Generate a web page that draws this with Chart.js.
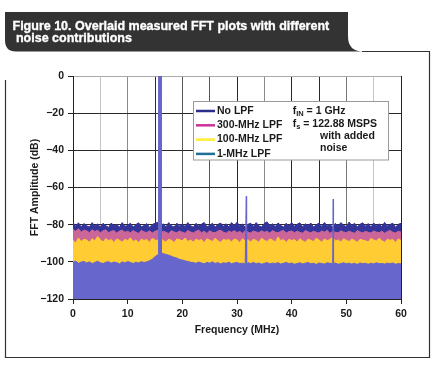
<!DOCTYPE html>
<html><head><meta charset="utf-8">
<script src="https://cdn.jsdelivr.net/npm/chart.js@4.4.1/dist/chart.umd.min.js"></script>
<style>html,body{margin:0;padding:0;background:#fff;}canvas{display:block;}</style>
</head><body>
<canvas id="c" width="435" height="365"></canvas>
<script>
// ---------------- data ----------------
const freqsMHz = [0,0.5,1,1.5,2,2.5,3,3.5,4,4.5,5,5.5,6,6.5,7,7.5,8,8.5,9,9.5,10,10.5,11,11.5,12,12.5,13,13.5,14,14.5,15,15.5,16,16.5,17,17.5,18,18.5,19,19.5,20,20.5,21,21.5,22,22.5,23,23.5,24,24.5,25,25.5,26,26.5,27,27.5,28,28.5,29,29.5,30,30.5,31,31.5,32,32.5,33,33.5,34,34.5,35,35.5,36,36.5,37,37.5,38,38.5,39,39.5,40,40.5,41,41.5,42,42.5,43,43.5,44,44.5,45,45.5,46,46.5,47,47.5,48,48.5,49,49.5,50,50.5,51,51.5,52,52.5,53,53.5,54,54.5,55,55.5,56,56.5,57,57.5,58,58.5,59,59.5,60];

const seriesNames = ['No LPF','300-MHz LPF','100-MHz LPF','1-MHz LPF'];

const noLpfDb = [
-78.8,-80.9,-79.0,-81.2,-79.4,-80.6,-81.3,-78.9,-80.8,-79.6,
-81.2,-79.3,-80.5,-81.5,-79.1,-80.7,-79.8,-81.4,-78.9,-80.9,
-80.4,-79.2,-81.3,-80.0,-79.0,-81.1,-80.5,-79.4,-81.5,-79.9,
-79.3,-78.7,-80.9,-79.5,-81.2,-78.9,-80.6,-81.3,-79.2,-80.8,
-79.6,-81.0,-78.9,-80.5,-81.4,-79.3,-80.7,-79.8,-78.8,-81.1,
-80.5,-79.2,-81.3,-79.9,-79.1,-80.9,-79.5,-81.2,-78.9,-80.4,
-78.7,-80.8,-79.6,-81.5,-79.8,-79.2,-81.0,-78.9,-80.6,-81.3,
-79.3,-78.5,-80.6,-79.5,-81.1,-79.1,-80.3,-81.4,-79.2,-80.7,
-78.9,-80.9,-79.8,-79.0,-81.2,-79.5,-80.6,-79.1,-81.3,-80.0,
-79.2,-81.0,-78.8,-80.7,-79.7,-81.5,-79.3,-80.8,-78.9,-80.3,
-81.1,-78.6,-80.5,-79.2,-81.2,-79.8,-79.0,-80.9,-79.4,-81.3,
-79.1,-80.6,-79.6,-81.0,-78.8,-80.7,-79.9,-79.2,-81.4,-79.8,
-79.3];

const lpf300Db = [
-82.6,-83.6,-82.2,-84.0,-82.9,-83.3,-84.3,-82.7,-83.7,-83.0,
-84.4,-83.3,-82.8,-84.3,-83.6,-83.1,-84.6,-83.4,-82.9,-84.1,
-83.5,-84.4,-83.2,-84.0,-84.7,-83.0,-83.9,-84.2,-83.3,-84.5,
-83.6,-83.0,-84.4,-83.5,-84.1,-84.8,-83.2,-84.0,-84.3,-83.4,
-84.1,-84.6,-83.1,-83.9,-84.5,-83.5,-83.0,-84.3,-83.6,-84.7,
-83.3,-84.1,-84.4,-83.4,-83.0,-84.0,-84.6,-83.5,-84.1,-83.2,
-84.3,-83.6,-84.7,-83.1,-84.0,-84.5,-83.4,-83.9,-84.3,-83.3,
-84.1,-83.5,-84.6,-83.2,-84.0,-84.4,-83.6,-83.0,-84.5,-83.7,
-83.4,-84.3,-83.5,-84.1,-84.6,-83.1,-83.9,-84.4,-83.5,-84.1,
-84.5,-83.4,-84.0,-83.0,-84.7,-83.6,-84.1,-84.4,-83.3,-84.0,
-84.3,-83.5,-84.1,-84.6,-83.2,-83.9,-84.4,-83.6,-84.1,-84.5,
-83.4,-84.0,-84.3,-83.5,-84.6,-83.7,-83.1,-84.1,-84.5,-83.6,
-84.0];

const lpf100Db = [
-88.5,-89.8,-87.2,-89.1,-87.8,-88.3,-89.5,-87.6,-88.7,-86.4,
-88.1,-89.3,-87.5,-88.6,-88.0,-89.6,-87.7,-88.4,-89.4,-87.9,
-88.6,-87.1,-89.1,-88.2,-89.7,-87.8,-88.5,-88.0,-89.5,-87.4,
-88.3,-88.8,-87.5,-88.6,-89.3,-87.9,-88.4,-89.6,-87.7,-88.1,
-88.7,-87.2,-89.1,-88.2,-89.4,-87.8,-88.5,-88.0,-89.7,-87.6,
-88.3,-89.1,-87.3,-88.6,-89.5,-87.9,-88.4,-88.0,-89.3,-87.7,
-88.2,-89.6,-87.6,-88.8,-88.1,-89.3,-87.8,-88.5,-89.5,-87.3,
-88.4,-89.1,-87.7,-88.3,-89.4,-86.6,-88.6,-88.0,-89.6,-87.9,
-88.5,-88.1,-89.3,-87.6,-88.7,-89.5,-87.8,-88.4,-89.1,-87.3,
-88.3,-89.4,-87.7,-88.6,-88.0,-86.8,-88.8,-88.2,-89.3,-87.6,
-88.4,-89.1,-87.8,-88.5,-89.5,-87.9,-88.3,-88.7,-89.3,-87.4,
-88.2,-88.8,-87.3,-88.6,-89.4,-87.9,-88.4,-88.0,-89.6,-87.7,
-88.5];

const lpf1Db = [
-100.2,-99.6,-100.8,-100.1,-99.8,-100.6,-100.0,-101.0,-100.3,-99.7,
-100.5,-100.9,-100.2,-99.9,-100.7,-100.1,-100.4,-101.1,-100.0,-100.6,
-99.8,-100.3,-100.9,-100.2,-100.6,-99.9,-100.4,-100.0,
-99.4,-98.6,-97.2,-96.3,-95.7,-95.5,-96.1,-96.4,-97.0,-97.6,-98.0,-98.7,-99.0,-99.5,-99.8,-100.2,
-100.4,-100.8,-100.1,-100.6,-101.0,-100.3,-100.7,-100.0,-100.9,-100.4,
-101.1,-100.5,-100.8,-100.2,-101.0,-100.6,-100.3,-100.9,-100.7,-101.2,
-100.5,-100.9,-100.3,-101.0,-100.6,-101.3,-100.8,-100.4,-101.1,-100.7,
-100.9,-100.5,-101.2,-100.8,-100.3,-101.0,-100.6,-101.3,-100.9,-100.5,
-101.1,-100.7,-100.4,-101.0,-100.8,-101.4,-100.6,-100.9,-101.2,-100.5,
-100.8,-101.1,-100.6,-101.3,-100.9,-100.5,-101.0,-100.7,-101.2,-100.8,
-101.4,-100.6,-101.0,-100.8,-101.3,-100.7,-101.1,-100.5,-101.0,-100.9,
-101.2,-100.7,-101.0,-100.6,-101.3,-100.9,-101.1];

// fundamental tone (all series) and spurs (1-MHz LPF trace)
const fundamentalMHz = 15.9;
const fundamentalDb = 0;
const spurFreqsMHz = [31.7, 47.6];
const spurDb = [-64.7, -66.3];

const xTickLabels = ['0','10','20','30','40','50','60'];
const yTickLabels = ['0','\u221220','\u221240','\u221260','\u221280','\u2212100','\u2212120'];

// ---------------- styles ----------------
const fillColors = ['#333399','#cc6699','#ffcc33','#6666cc'];
const legendColors = ['#2b2e8c','#cc3399','#ffee33','#1f6f96'];
const FONT = '"Liberation Sans", Arial, Helvetica, sans-serif';
const TXT = '#1a1a1a';

function buildPoints(values, spikes) {
  let pts = freqsMHz.map((f, i) => ({x: f, y: values[i]}));
  spikes.forEach(s => {
    let ni = 0, best = 1e9;
    freqsMHz.forEach((f, i) => { const d = Math.abs(f - s.f); if (d < best) { best = d; ni = i; } });
    const base = values[ni];
    pts = pts.filter(p => p.x < s.f - s.hw || p.x > s.f + s.hw);
    if (s.wide) {
      pts.push({x: s.f - s.hw, y: base}, {x: s.f - s.hw + 0.005, y: s.db},
               {x: s.f + s.hw - 0.005, y: s.db}, {x: s.f + s.hw, y: base});
    } else {
      pts.push({x: s.f - s.hw, y: base}, {x: s.f, y: s.db}, {x: s.f + s.hw, y: base});
    }
  });
  pts.sort((a, b) => a.x - b.x);
  return pts;
}

const fund = {f: fundamentalMHz, db: fundamentalDb, hw: 0.25, wide: true};
const spurs = spurFreqsMHz.map((f, i) => ({f: f, db: spurDb[i], hw: 0.06, wide: false}));
const seriesValues = [noLpfDb, lpf300Db, lpf100Db, lpf1Db];
const datasets = seriesValues.map((vals, i) => ({
  label: seriesNames[i],
  data: buildPoints(vals, i === 3 ? [fund].concat(spurs) : [fund]),
  borderColor: fillColors[i],
  backgroundColor: fillColors[i],
  borderWidth: 1,
  fill: 'start',
  pointRadius: 0,
  tension: 0,
  order: 4 - i
}));

const xGridColors = ['#222','#c4c4c4','#8a8a8a','#2a2a2a','#555','#555','#2a2a2a','#8a8a8a','#2a2a2a','#2a2a2a','#777','#c4c4c4','#222'];

// ---------------- decoration plugins ----------------
const framePlugin = {
  id: 'frame',
  beforeDraw(chart) {
    const c = chart.ctx;
    c.save();
    c.fillStyle = '#fff';
    c.fillRect(0, 0, chart.width, chart.height);
    c.fillStyle = '#333333';
    c.beginPath();
    c.moveTo(5, 12);
    c.lineTo(348, 12);
    c.lineTo(348, 36);
    c.quadraticCurveTo(348, 51.5, 363, 51.5);
    c.lineTo(16, 51.5);
    c.quadraticCurveTo(5, 51.5, 5, 40);
    c.closePath();
    c.fill();
    c.fillStyle = '#fff';
    c.strokeStyle = '#fff';
    c.lineWidth = 0.35;
    c.font = 'bold 12.5px ' + FONT;
    c.textBaseline = 'alphabetic';
    c.fillText('Figure 10. Overlaid measured FFT plots with different', 12.5, 29.5);
    c.strokeText('Figure 10. Overlaid measured FFT plots with different', 12.5, 29.5);
    c.fillText(' noise contributions', 12.5, 41.5);
    c.strokeText(' noise contributions', 12.5, 41.5);
    c.strokeStyle = '#333';
    c.lineWidth = 1.2;
    c.beginPath();
    c.moveTo(5.5, 80);
    c.lineTo(5.5, 357.5);
    c.lineTo(429.5, 357.5);
    c.lineTo(429.5, 51.5);
    c.lineTo(362, 51.5);
    c.stroke();
    c.restore();
  }
};

const legendPlugin = {
  id: 'boxLegend',
  afterDraw(chart) {
    const c = chart.ctx;
    c.save();
    c.fillStyle = '#fff';
    c.fillRect(193.5, 101.5, 195, 58.5);
    c.strokeStyle = '#9a9a9a';
    c.lineWidth = 1;
    c.strokeRect(193.5, 101.5, 195, 58.5);
    c.font = 'bold 10.5px ' + FONT;
    c.textBaseline = 'middle';
    seriesNames.forEach((name, i) => {
      const y = 111 + i * 14.3;
      c.strokeStyle = legendColors[i];
      c.lineWidth = 2.5;
      c.beginPath();
      c.moveTo(196, y);
      c.lineTo(215, y);
      c.stroke();
      c.fillStyle = TXT;
      c.fillText(name, 217, y);
    });
    const sub = 'bold 7.5px ' + FONT;
    const main = 'bold 10.5px ' + FONT;
    let x = 292.7, y = 111;
    c.font = main; c.fillText('f', x, y); x += c.measureText('f').width;
    c.font = sub; c.fillText('IN', x, y + 3); x += c.measureText('IN').width;
    c.font = main; c.fillText(' = 1 GHz', x, y);
    x = 292.7; y = 124;
    c.font = main; c.fillText('f', x, y); x += c.measureText('f').width;
    c.font = sub; c.fillText('s', x, y + 3); x += c.measureText('s').width;
    c.font = main; c.fillText(' = 122.88 MSPS', x, y);
    c.fillText('with added', 320, 136.5);
    c.fillText('noise', 320, 148.5);
    c.restore();
  }
};

// ---------------- chart ----------------
Chart.defaults.font.family = FONT;
const tickFont = {family: FONT, size: 10.5, weight: 'bold'};

new Chart(document.getElementById('c'), {
  type: 'line',
  data: {datasets},
  options: {
    responsive: false,
    animation: false,
    devicePixelRatio: 1,
    layout: {padding: {top: 76, right: 34, left: 0, bottom: 0}},
    plugins: {legend: {display: false}, tooltip: {enabled: false}},
    elements: {point: {radius: 0}},
    scales: {
      x: {
        type: 'linear', min: 0, max: 60, z: 1,
        ticks: {
          stepSize: 5, autoSkip: false, maxRotation: 0, padding: 4,
          color: TXT, font: tickFont,
          callback: (v) => (Math.round(v) % 10 === 0 ? xTickLabels[Math.round(v) / 10] : '')
        },
        grid: {
          lineWidth: 1, tickLength: 5, drawTicks: true,
          color: (ctx) => xGridColors[ctx.index] || '#222',
          tickColor: (ctx) => (ctx.tick && Math.round(ctx.tick.value) % 10 === 0 ? '#222' : 'rgba(0,0,0,0)')
        },
        border: {color: '#222', width: 1},
        title: {display: true, text: 'Frequency (MHz)', color: TXT, font: tickFont, padding: {top: 0, bottom: 28.7}},
        afterFit(s) { s.height = 66; }
      },
      y: {
        min: -120, max: 0,
        ticks: {
          stepSize: 20, padding: 4, color: TXT, font: tickFont,
          callback: (v) => yTickLabels[Math.round(-v / 20)]
        },
        grid: {
          lineWidth: 1, tickLength: 5,
          color: (ctx) => (ctx.tick && ctx.tick.value === 0 ? '#aaaaaa' : '#2a2a2a'),
          tickColor: '#222'
        },
        border: {color: '#222', width: 1},
        title: {display: true, text: 'FFT Amplitude (dB)', color: TXT, font: tickFont, padding: {top: 29, bottom: 0}},
        afterFit(s) { s.width = 73; }
      }
    }
  },
  plugins: [framePlugin, legendPlugin]
});
</script>
</body></html>
